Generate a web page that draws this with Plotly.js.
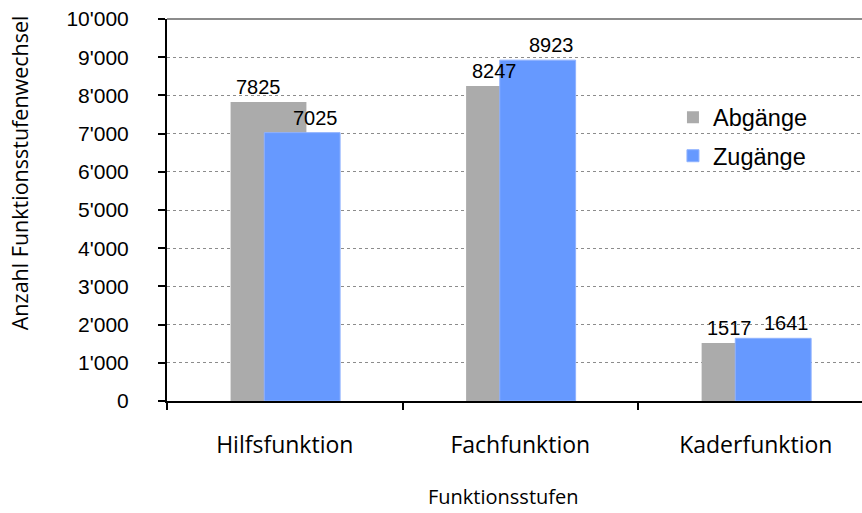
<!DOCTYPE html>
<html>
<head>
<meta charset="utf-8">
<script src="https://cdn.plot.ly/plotly-3.0.1.min.js"></script>
<style>html,body{margin:0;padding:0;background:#fff;}#chart{width:862px;height:513px;}</style>
</head>
<body>
<div id="chart"></div>
<script>
const categories = ["Hilfsfunktion", "Fachfunktion", "Kaderfunktion"];
const abgaenge = [7825, 8247, 1517];
const zugaenge = [7025, 8923, 1641];
const seriesNames = ["Abgänge", "Zugänge"];
const yTickVals = [0, 1000, 2000, 3000, 4000, 5000, 6000, 7000, 8000, 9000, 10000];

const GREY = "#ABABAB", BLUE = "#6699FF";
const BAR_W = 0.322;

const traces = [
  {type: "bar", name: seriesNames[0], x: categories, y: abgaenge,
   width: BAR_W, offset: -0.230, marker: {color: GREY, line: {width: 0}},
   legendgroup: "a", hoverinfo: "x+y"},
  {type: "bar", name: seriesNames[1], x: categories, y: zugaenge,
   width: BAR_W, offset: -0.087, marker: {color: BLUE, line: {color: "#8FB2FF", width: 1}},
   legendgroup: "b", hoverinfo: "x+y"}
];

const labelFont = {family: "Liberation Sans, Arial, sans-serif", size: 20, color: "#000"};
const annotations = [];
categories.forEach((c, i) => {
  annotations.push({x: c, y: abgaenge[i], xref: "x", yref: "y", text: String(abgaenge[i]),
    showarrow: false, yanchor: "bottom", xanchor: "center", xshift: -26, yshift: 2, font: labelFont});
  annotations.push({x: c, y: zugaenge[i], xref: "x", yref: "y", text: String(zugaenge[i]),
    showarrow: false, yanchor: "bottom", xanchor: "center", xshift: 31, yshift: 2, font: labelFont});
});
annotations.push({text: "Anzahl Funktionsstufenwechsel", xref: "paper", yref: "paper",
  x: -0.212, y: 0.598, xanchor: "center", yanchor: "middle", textangle: -90, showarrow: false,
  font: {family: "Open Sans, sans-serif", size: 21.5, color: "#000"}});
annotations.push({text: "Funktionsstufen", xref: "paper", yref: "paper",
  x: 0.484, y: -0.250, xanchor: "center", yanchor: "middle", showarrow: false,
  font: {family: "Open Sans, sans-serif", size: 20, color: "#000"}});

const layout = {
  width: 862, height: 513,
  margin: {l: 167, r: 0, t: 19, b: 112, pad: 0},
  paper_bgcolor: "#fff", plot_bgcolor: "#fff",
  barmode: "overlay",
  separators: ".'",
  showlegend: true,
  legend: {x: 0.728, y: 0.80, xanchor: "left", yanchor: "top", traceorder: "grouped",
    tracegroupgap: 5, bgcolor: "rgba(0,0,0,0)", itemwidth: 30,
    font: {family: "Liberation Sans, Arial, sans-serif", size: 23.5, color: "#000"}},
  xaxis: {type: "category", range: [-0.5, 2.451], tickson: "boundaries",
    showline: true, linecolor: "#000", linewidth: 2, ticks: "outside", ticklen: 7,
    tickcolor: "#000", tickwidth: 2, showgrid: false, zeroline: false,
    ticklabelstandoff: 22,
    tickfont: {family: "Open Sans, sans-serif", size: 23, color: "#000"}},
  yaxis: {range: [0, 10000], tickvals: yTickVals, tickformat: ",d",
    showline: true, linecolor: "#000", linewidth: 2, ticks: "outside", ticklen: 7,
    tickcolor: "#000", tickwidth: 2, showgrid: true, gridcolor: "#8C8C8C", gridwidth: 1,
    griddash: "dot", zeroline: false, ticklabelstandoff: 25,
    tickfont: {family: "Liberation Sans, Arial, sans-serif", size: 21, color: "#000"}},
  shapes: [{type: "line", xref: "paper", yref: "paper", x0: 0, x1: 1, y0: 1, y1: 1,
    line: {color: "#8C8C8C", width: 2}, layer: "above"}],
  annotations: annotations
};

Plotly.newPlot("chart", traces, layout, {staticPlot: true});
</script>
</body>
</html>
